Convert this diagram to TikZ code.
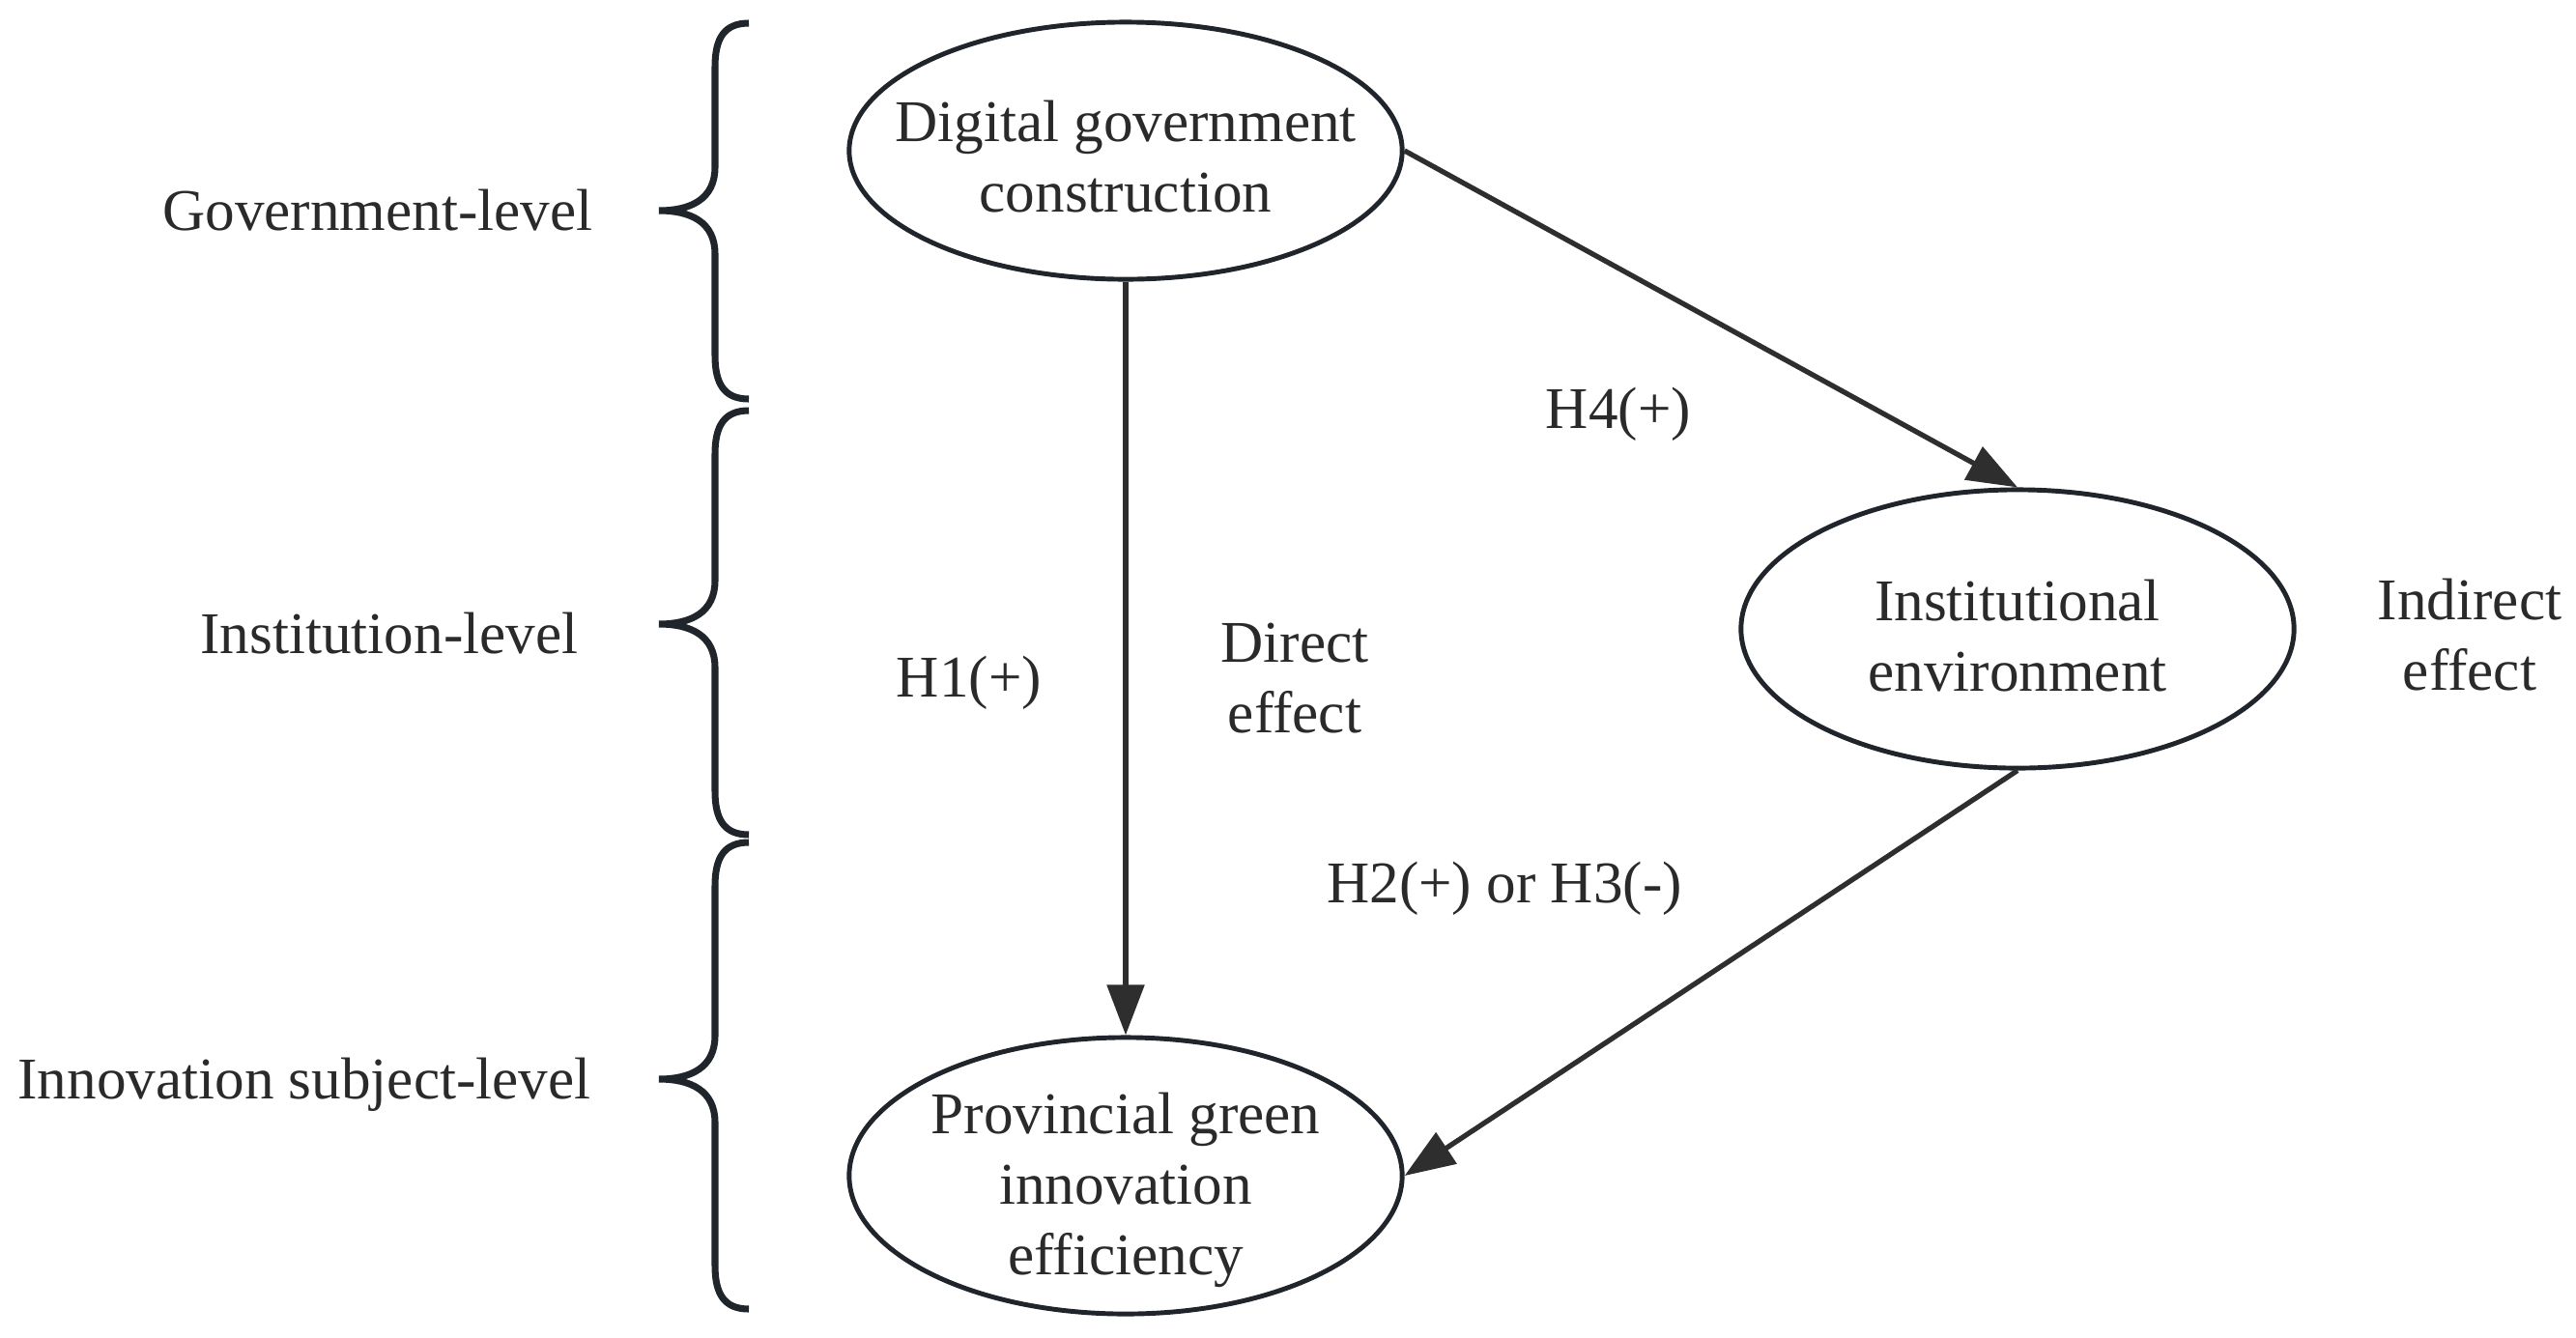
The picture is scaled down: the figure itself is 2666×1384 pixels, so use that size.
\documentclass[tikz,border=0pt]{standalone}
\usepackage{fontspec}
\setmainfont{Liberation Serif}
\usetikzlibrary{shapes.geometric,arrows.meta}
\definecolor{ln}{HTML}{1F252B}
\definecolor{ar}{HTML}{2E2E2E}
\definecolor{tx}{HTML}{2A2A2A}
\newcommand\mybrace[3]{%
  \draw[bracestyle] (775,#1) .. controls (750,#1) and (740,{#1+15}) .. (740,{#1+45})
    -- (740,{#2-45}) .. controls (740,{#2-12}) and (715,#2) .. (682,#2)
    .. controls (715,#2) and (740,{#2+12}) .. (740,{#2+45})
    -- (740,{#3-45}) .. controls (740,{#3-15}) and (750,#3) .. (775,#3);}
\begin{document}
\begin{tikzpicture}[x=0.01cm,y=-0.01cm,
  every node/.style={font=\fontsize{17.4pt}{20.8pt}\selectfont, text=tx, align=center, inner sep=0pt},
  oval/.style={ellipse, draw=ln, line width=1.4pt, minimum width=5.72cm, minimum height=2.66cm},
  conn/.style={draw=ar, line width=1.5pt, -{Triangle[length=0.52cm,width=0.38cm]}},
  bracestyle/.style={draw=ln, line width=2pt}]
\useasboundingbox (0,0) rectangle (2666,1384);

% ellipses
\node[oval] (e1) at (1165,156) {};
\node[oval, minimum height=2.88cm] (e2) at (2088,651) {};
\node[oval, minimum height=2.86cm] (e3) at (1165,1217) {};
\node (t1) at (1165,162) {Digital government\\construction};
\node (t2) at (2088,658) {Institutional\\environment};
\node (t3) at (1165,1232) {Provincial green\\innovation\\efficiency};

% connectors
\draw[conn] (e1.south) -- (e3.north);
\draw[conn] (e1.east) -- (e2.north);
\draw[conn] (e2.south) -- (e3.east);

% labels
\node (h4) at (1675,429) {H4(+)};
\node (h1) at (1003,707) {H1(+)};
\node (de) at (1340,702) {Direct\\effect};
\node (h23) at (1557,920) {H2(+) or H3(-)};
\node (ie) at (2556,657) {Indirect\\effect};

% braces
\mybrace{24}{218}{413}
\mybrace{425}{646}{864}
\mybrace{872}{1117}{1355}

\node (gl) at (391,218) {Government-level};
\node (il) at (403,656) {Institution-level};
\node (isl) at (315,1123) {Innovation subject-level};
\end{tikzpicture}
\end{document}
